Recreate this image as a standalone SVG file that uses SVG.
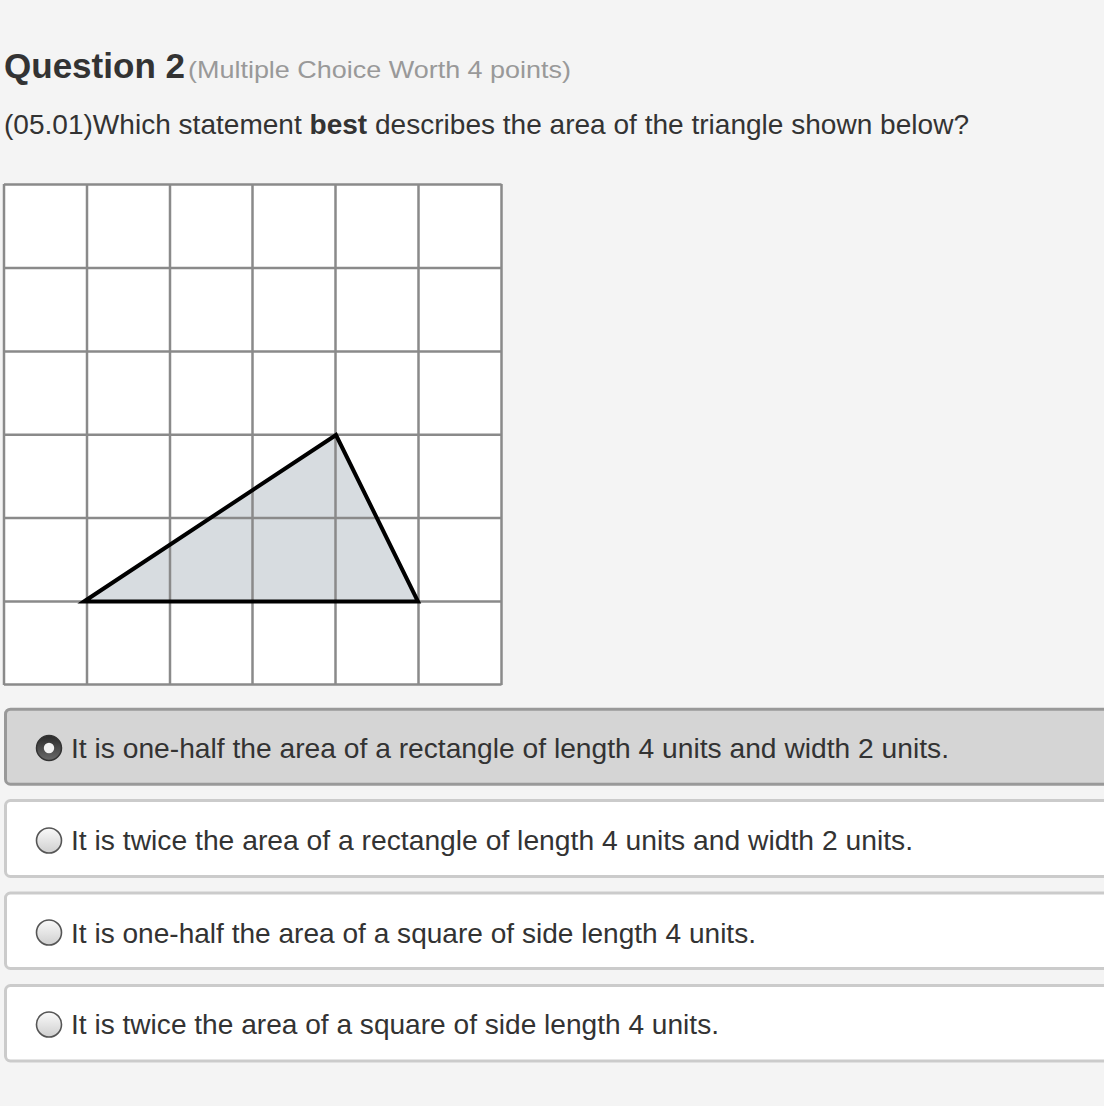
<svg xmlns="http://www.w3.org/2000/svg" width="1104" height="1106" viewBox="0 0 1104 1106">
<style>
.t{font-family:"Liberation Sans",Arial,Helvetica,sans-serif;fill:#333;}
.opt{font-size:27.5px;}
.grid line{stroke:#8a8a8a;stroke-width:2.5;}
.box{fill:#fff;stroke:#cbcbcb;stroke-width:3;}
.sel{fill:#d5d5d5;stroke:#999;stroke-width:3;}
.radio{fill:url(#rg);stroke:#555;stroke-width:1.6;}
</style>
<defs>
<linearGradient id="rg" x1="0" y1="0" x2="0" y2="1">
<stop offset="0" stop-color="#fafafa"/>
<stop offset="1" stop-color="#cfcfcf"/>
</linearGradient>
<linearGradient id="rs" x1="0" y1="0" x2="0" y2="1">
<stop offset="0" stop-color="#2a2a2a"/>
<stop offset="1" stop-color="#6a6a6a"/>
</linearGradient>
</defs>
<rect x="0" y="0" width="1104" height="1106" fill="#f4f4f4"/>

<g id="header">
<text class="t" x="4" y="78" font-size="35" font-weight="bold" textLength="181" lengthAdjust="spacingAndGlyphs">Question 2</text>
<text class="t" x="188" y="77.5" font-size="24.5" style="fill:#999" textLength="383" lengthAdjust="spacingAndGlyphs">(Multiple Choice Worth 4 points)</text>
<text class="t opt" x="4" y="134" textLength="965" lengthAdjust="spacingAndGlyphs">(05.01)Which statement <tspan font-weight="bold">best</tspan> describes the area of the triangle shown below?</text>
</g>

<g id="grid-figure">
<rect x="4" y="184" width="497.5" height="500.5" fill="#fff"/>
<polygon points="87,601.5 336,435 418,601.5" fill="#d7dce0"/>
<g class="grid">
<line x1="4" y1="184" x2="4" y2="685"/>
<line x1="87" y1="184" x2="87" y2="685"/>
<line x1="170" y1="184" x2="170" y2="685"/>
<line x1="252.5" y1="184" x2="252.5" y2="685"/>
<line x1="335.5" y1="184" x2="335.5" y2="685"/>
<line x1="418.5" y1="184" x2="418.5" y2="685"/>
<line x1="501.5" y1="184" x2="501.5" y2="685"/>
<line x1="4" y1="184.5" x2="501.5" y2="184.5"/>
<line x1="4" y1="268" x2="501.5" y2="268"/>
<line x1="4" y1="351.5" x2="501.5" y2="351.5"/>
<line x1="4" y1="434.7" x2="501.5" y2="434.7"/>
<line x1="4" y1="518" x2="501.5" y2="518"/>
<line x1="4" y1="601.5" x2="501.5" y2="601.5"/>
<line x1="4" y1="684.5" x2="501.5" y2="684.5"/>
</g>
<polygon points="84,601.5 336,435 418,601.5" fill="none" stroke="#000" stroke-width="4" stroke-linejoin="miter"/>
</g>

<g id="option-1">
<rect class="sel" x="5.5" y="709.2" width="1200" height="75" rx="5"/>
<circle cx="49" cy="748" r="12.5" fill="url(#rs)" stroke="#333" stroke-width="1.5"/>
<circle cx="49" cy="748" r="5.2" fill="#f2f2f2"/>
<text class="t opt" x="71" y="758" textLength="878" lengthAdjust="spacingAndGlyphs">It is one-half the area of a rectangle of length 4 units and width 2 units.</text>
</g>

<g id="option-2">
<rect class="box" x="5.5" y="800.5" width="1200" height="76" rx="5"/>
<circle class="radio" cx="49" cy="840.5" r="12.5"/>
<text class="t opt" x="71" y="850" textLength="842" lengthAdjust="spacingAndGlyphs">It is twice the area of a rectangle of length 4 units and width 2 units.</text>
</g>

<g id="option-3">
<rect class="box" x="5.5" y="893" width="1200" height="75.5" rx="5"/>
<circle class="radio" cx="49" cy="932.5" r="12.5"/>
<text class="t opt" x="71" y="942.5" textLength="685" lengthAdjust="spacingAndGlyphs">It is one-half the area of a square of side length 4 units.</text>
</g>

<g id="option-4">
<rect class="box" x="5.5" y="985.5" width="1200" height="75.5" rx="5"/>
<circle class="radio" cx="49" cy="1024.5" r="12.5"/>
<text class="t opt" x="71" y="1034" textLength="648" lengthAdjust="spacingAndGlyphs">It is twice the area of a square of side length 4 units.</text>
</g>
</svg>
